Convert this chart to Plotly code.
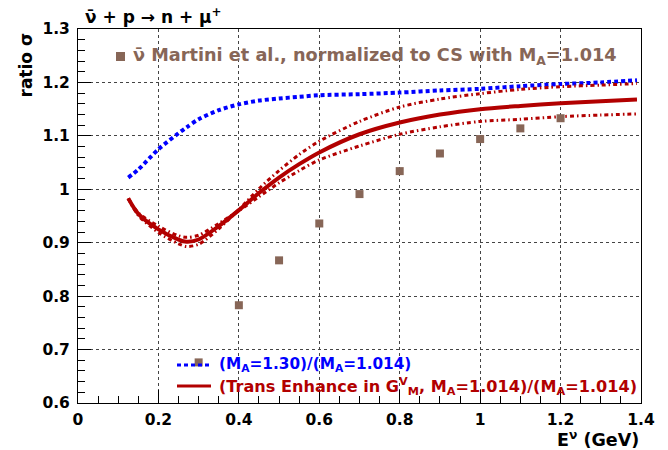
import plotly.graph_objects as go

# ---------------- data ----------------
E_curve = [0.125, 0.15, 0.2, 0.25, 0.27, 0.3, 0.35, 0.4, 0.45, 0.5, 0.55, 0.6,
           0.7, 0.8, 0.9, 1.0, 1.1, 1.2, 1.3, 1.39]
ratio_MA130 = [1.022, 1.037, 1.075, 1.105, 1.116, 1.131, 1.148, 1.159, 1.166, 1.170, 1.173, 1.176,
               1.178, 1.181, 1.185, 1.188, 1.193, 1.197, 1.200, 1.204]
ratio_TE = [0.983, 0.954, 0.925, 0.906, 0.902, 0.906, 0.931, 0.961, 0.993, 1.022, 1.047, 1.069,
            1.103, 1.125, 1.140, 1.150, 1.156, 1.161, 1.165, 1.168]
ratio_TE_up = [0.983, 0.951, 0.919, 0.898, 0.893, 0.897, 0.926, 0.962, 1.001, 1.035, 1.065, 1.090,
               1.127, 1.154, 1.169, 1.179, 1.187, 1.192, 1.195, 1.198]
ratio_TE_lo = [0.983, 0.956, 0.931, 0.913, 0.910, 0.914, 0.936, 0.960, 0.986, 1.012, 1.035, 1.055,
               1.081, 1.103, 1.117, 1.127, 1.131, 1.136, 1.139, 1.141]

E_martini = [0.3, 0.4, 0.5, 0.6, 0.7, 0.8, 0.9, 1.0, 1.1, 1.2]
ratio_martini = [0.676, 0.783, 0.867, 0.936, 0.991, 1.034, 1.067, 1.094, 1.114, 1.133]

x_tickvals = [0, 0.2, 0.4, 0.6, 0.8, 1.0, 1.2, 1.4]
x_ticktext = ["0", "0.2", "0.4", "0.6", "0.8", "1", "1.2", "1.4"]
y_tickvals = [0.6, 0.7, 0.8, 0.9, 1.0, 1.1, 1.2, 1.3]
y_ticktext = ["0.6", "0.7", "0.8", "0.9", "1", "1.1", "1.2", "1.3"]

# ---------------- style ----------------
BLUE = "#0000FF"
RED = "#B20000"
BROWN = "#876657"
FONT = "DejaVu Sans"

W, H = 668, 450
L, R, T, B = 78, 27, 29, 47
PW, PH = W - L - R, H - T - B


def px(xp):
    return (xp - L) / PW


def py(yp):
    return (H - B - yp) / PH


fig = go.Figure()

fig.add_trace(go.Scatter(x=E_curve, y=ratio_MA130, mode="lines",
                         line=dict(color=BLUE, width=4, dash="4px,3px", shape="spline", smoothing=0.8),
                         showlegend=False))
fig.add_trace(go.Scatter(x=E_curve, y=ratio_TE_up, mode="lines",
                         line=dict(color=RED, width=3, dash="4px,3px,1.5px,3px", shape="spline", smoothing=0.8),
                         showlegend=False))
fig.add_trace(go.Scatter(x=E_curve, y=ratio_TE_lo, mode="lines",
                         line=dict(color=RED, width=3, dash="4px,3px,1.5px,3px", shape="spline", smoothing=0.8),
                         showlegend=False))
fig.add_trace(go.Scatter(x=E_curve, y=ratio_TE, mode="lines",
                         line=dict(color=RED, width=4, shape="spline", smoothing=0.8),
                         showlegend=False))
fig.add_trace(go.Scatter(x=E_martini, y=ratio_martini, mode="markers",
                         marker=dict(symbol="square", size=8, color=BROWN),
                         showlegend=False))

axis_common = dict(
    showline=True, linecolor="black", linewidth=1, mirror=True,
    ticks="inside", ticklen=13, tickcolor="black", tickwidth=1,
    showgrid=True, gridcolor="#444", griddash="dot", gridwidth=1,
    zeroline=False, automargin=False,
    tickfont=dict(family=FONT, size=15.5, color="black", weight="bold"),
)

fig.update_layout(
    width=W, height=H,
    margin=dict(l=L, r=R, t=T, b=B),
    paper_bgcolor="white", plot_bgcolor="white",
    xaxis=dict(range=[0, 1.4], tickvals=x_tickvals, ticktext=x_ticktext,
               minor=dict(ticks="inside", ticklen=7, dtick=0.05, tick0=0,
                          tickcolor="black", showgrid=False),
               ticklabelstandoff=2,
               **axis_common),
    yaxis=dict(range=[0.6, 1.3], tickvals=y_tickvals, ticktext=y_ticktext,
               minor=dict(ticks="inside", ticklen=7, dtick=0.02, tick0=0.6,
                          tickcolor="black", showgrid=False),
               ticklabelstandoff=4,
               **axis_common),
)

annots = []
# title
annots.append(dict(x=px(83), y=py(16), xref="paper", yref="paper",
                   xanchor="left", yanchor="middle", showarrow=False,
                   text="ν̄ + p → n + μ<sup>+</sup>",
                   font=dict(family=FONT, size=17, color="black", weight="bold")))
# y title
annots.append(dict(x=px(25), y=py(31), xref="paper", yref="paper",
                   xanchor="center", yanchor="top", showarrow=False, textangle=-90,
                   text="ratio σ",
                   font=dict(family=FONT, size=17, color="black", weight="bold")))
# x title
annots.append(dict(x=px(641), y=py(439), xref="paper", yref="paper",
                   xanchor="right", yanchor="middle", showarrow=False,
                   text="E<sup>ν</sup> (GeV)",
                   font=dict(family=FONT, size=17.5, color="black", weight="bold")))
# Martini legend
annots.append(dict(x=px(131), y=py(57), xref="paper", yref="paper",
                   xanchor="left", yanchor="middle", showarrow=False,
                   text="ν̄ Martini et al., normalized to CS with M<sub>A</sub>=1.014",
                   font=dict(family=FONT, size=17.7, color=BROWN, weight="bold")))
# curve legends
annots.append(dict(x=px(217), y=py(365), xref="paper", yref="paper",
                   xanchor="left", yanchor="middle", showarrow=False,
                   text="(M<sub>A</sub>=1.30)/(M<sub>A</sub>=1.014)",
                   font=dict(family=FONT, size=15.3, color=BLUE, weight="bold")))
annots.append(dict(x=px(217), y=py(386), xref="paper", yref="paper",
                   xanchor="left", yanchor="middle", showarrow=False,
                   text="(Trans Enhance in G<sup>V</sup><sub>M</sub>, M<sub>A</sub>=1.014)/(M<sub>A</sub>=1.014)",
                   font=dict(family=FONT, size=16.1, color=RED, weight="bold")))

shapes = [
    dict(type="rect", xref="paper", yref="paper",
         x0=px(116), x1=px(125), y0=py(61), y1=py(52),
         fillcolor=BROWN, line=dict(width=0)),
    dict(type="line", xref="paper", yref="paper",
         x0=px(177), x1=px(211), y0=py(365), y1=py(365),
         line=dict(color=BLUE, width=3, dash="4px,3px")),
    dict(type="line", xref="paper", yref="paper",
         x0=px(177), x1=px(211), y0=py(386), y1=py(386),
         line=dict(color=RED, width=3)),
]

fig.update_layout(annotations=annots, shapes=shapes)

fig.write_html("out.html",
               config={"displayModeBar": False},
               post_script="document.body.style.margin='0px';document.body.style.overflow='hidden';")
